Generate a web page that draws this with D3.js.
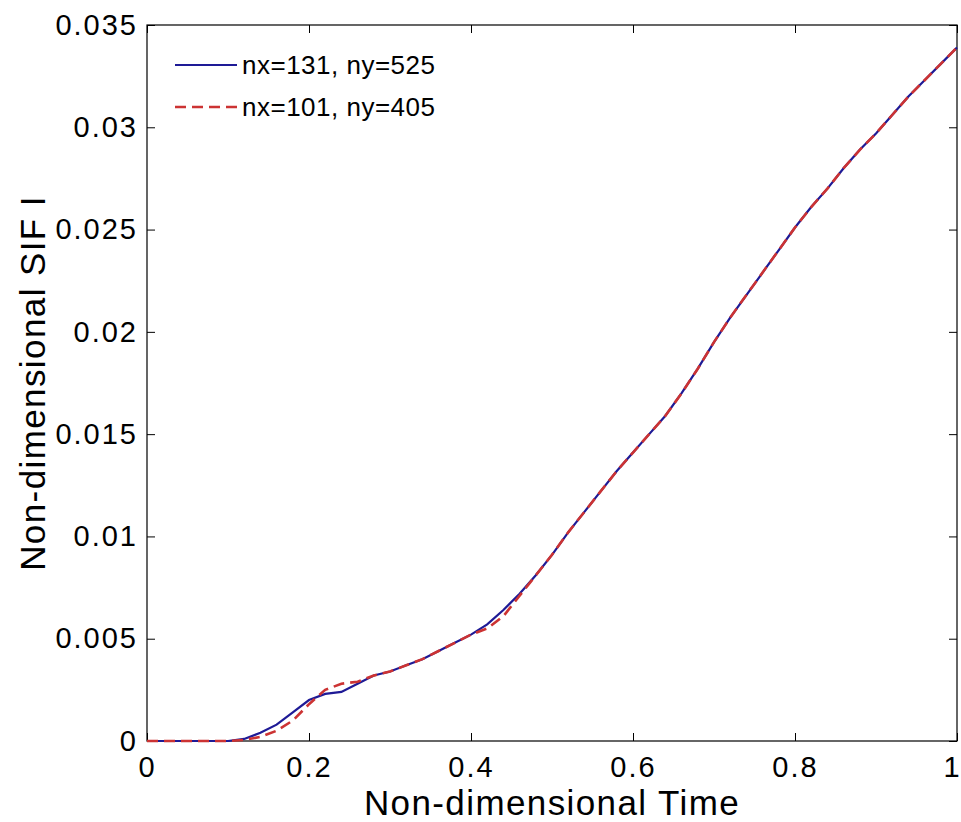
<!DOCTYPE html>
<meta charset="utf-8">
<script src="https://cdn.jsdelivr.net/npm/d3@7"></script>
<style>
  body { margin: 0; background: #fff; }
  text { font-family: Arial, "Liberation Sans", sans-serif; fill: #000; }
  .tick text { font-size: 29px; letter-spacing: 2px; }
  .tick line { stroke: #000; stroke-width: 1px; }
  .label { font-size: 35px; letter-spacing: 1.4px; }
  .legend text { font-size: 26px; letter-spacing: 0.5px; }
</style>
<div id="wrapper"></div>
<script>
  // Data
  const time = [0, 0.02, 0.04, 0.06, 0.08, 0.10, 0.12, 0.14, 0.16, 0.18, 0.20,
    0.22, 0.24, 0.26, 0.28, 0.30, 0.32, 0.34, 0.36, 0.38, 0.40,
    0.42, 0.44, 0.46, 0.48, 0.50, 0.52, 0.54, 0.56, 0.58, 0.60,
    0.62, 0.64, 0.66, 0.68, 0.70, 0.72, 0.74, 0.76, 0.78, 0.80,
    0.82, 0.84, 0.86, 0.88, 0.90, 0.92, 0.94, 0.96, 0.98, 1.00];

  const sifFine = [0, 0, 0, 0, 0, 0, 0.0001, 0.0004, 0.0008, 0.0014, 0.0020,
    0.0023, 0.0024, 0.0028, 0.0032, 0.0034, 0.0037, 0.0040, 0.0044, 0.0048, 0.0052,
    0.0057, 0.0064, 0.0072, 0.0081, 0.0091, 0.0102, 0.0112, 0.0122, 0.0132, 0.0141,
    0.0150, 0.0159, 0.0170, 0.0182, 0.0195, 0.0207, 0.0218, 0.0229, 0.0240, 0.0251,
    0.0261, 0.0270, 0.0280, 0.0289, 0.0297, 0.0306, 0.0315, 0.0323, 0.0331, 0.0339];

  const sifCoarse = [0, 0, 0, 0, 0, 0, 0.00005, 0.0002, 0.0005, 0.0010, 0.0018,
    0.0025, 0.0028, 0.0029, 0.0032, 0.0034, 0.0037, 0.0040, 0.0044, 0.0048, 0.0052,
    0.0055, 0.0061, 0.0071, 0.0081, 0.0091, 0.0102, 0.0112, 0.0122, 0.0132, 0.0141,
    0.0150, 0.0159, 0.0170, 0.0182, 0.0195, 0.0207, 0.0218, 0.0229, 0.0240, 0.0251,
    0.0261, 0.0270, 0.0280, 0.0289, 0.0297, 0.0306, 0.0315, 0.0323, 0.0331, 0.0339];

  const seriesNames = ["nx=131, ny=525", "nx=101, ny=405"];
  const xTicks = [0, 0.2, 0.4, 0.6, 0.8, 1];
  const yTicks = [0, 0.005, 0.01, 0.015, 0.02, 0.025, 0.03, 0.035];

  const margin = { top: 25, right: 4, bottom: 81, left: 147 },
    width = 961 - margin.left - margin.right,
    height = 822 - margin.top - margin.bottom;

  const svg = d3.select("#wrapper")
    .append("svg")
    .attr("width", 961)
    .attr("height", 822);

  const g = svg.append("g")
    .attr("transform", `translate(${margin.left},${margin.top})`);

  const x = d3.scaleLinear().domain([0, 1]).range([0, width]);
  const y = d3.scaleLinear().domain([0, 0.035]).range([height, 0]);

  const fmtY = d => d === 0 ? "0" : d3.format("")(+d.toFixed(3));
  const fmtX = d => d3.format("")(d);

  // axes, ticks pointing inward
  const xAxis = g.append("g")
    .attr("transform", `translate(0,${height})`)
    .call(d3.axisBottom(x).tickValues(xTicks).tickFormat(fmtX)
      .tickSizeInner(-8).tickSizeOuter(0).tickPadding(15));
  // the last label sits at the very edge of the page
  xAxis.selectAll(".tick text")
    .filter(d => d === 1)
    .attr("x", -6)
    .style("letter-spacing", "0px");

  g.append("g")
    .call(d3.axisLeft(y).tickValues(yTicks).tickFormat(fmtY)
      .tickSizeInner(-8).tickSizeOuter(0).tickPadding(9));
  g.append("g")
    .call(d3.axisTop(x).tickValues(xTicks).tickFormat("")
      .tickSizeInner(-8).tickSizeOuter(0));
  g.append("g")
    .attr("transform", `translate(${width},0)`)
    .call(d3.axisRight(y).tickValues(yTicks).tickFormat("")
      .tickSizeInner(-8).tickSizeOuter(0));
  g.selectAll(".domain").remove();

  g.append("rect")
    .attr("width", width)
    .attr("height", height)
    .attr("fill", "none")
    .attr("stroke", "#000")
    .attr("stroke-width", 1.2);

  const line = d3.line()
    .x((d, i) => x(time[i]))
    .y(d => y(d));

  g.append("path")
    .datum(sifFine)
    .attr("d", line)
    .attr("fill", "none")
    .attr("stroke", "#1e1a96")
    .attr("stroke-width", 2.2);

  g.append("path")
    .datum(sifCoarse)
    .attr("d", line)
    .attr("fill", "none")
    .attr("stroke", "#cc3333")
    .attr("stroke-width", 2.6)
    .attr("stroke-dasharray", "11,6");

  // legend
  const legend = g.append("g").attr("class", "legend");
  const styles = [
    { color: "#1e1a96", dash: null, w: 2.2 },
    { color: "#cc3333", dash: "11,6", w: 2.6 }
  ];
  seriesNames.forEach((name, i) => {
    const row = legend.append("g").attr("transform", `translate(28,${40 + i * 42})`);
    row.append("line")
      .attr("x1", 0).attr("x2", 62)
      .attr("stroke", styles[i].color)
      .attr("stroke-width", styles[i].w)
      .attr("stroke-dasharray", styles[i].dash);
    row.append("text")
      .attr("x", 67)
      .attr("dy", "0.36em")
      .text(name);
  });

  // axis labels
  svg.append("text")
    .attr("class", "label")
    .attr("text-anchor", "middle")
    .attr("x", margin.left + width / 2)
    .attr("y", 815)
    .text("Non-dimensional Time");

  svg.append("text")
    .attr("class", "label")
    .attr("text-anchor", "middle")
    .attr("transform", `translate(45,${margin.top + height / 2}) rotate(-90)`)
    .text("Non-dimensional SIF I");
</script>
